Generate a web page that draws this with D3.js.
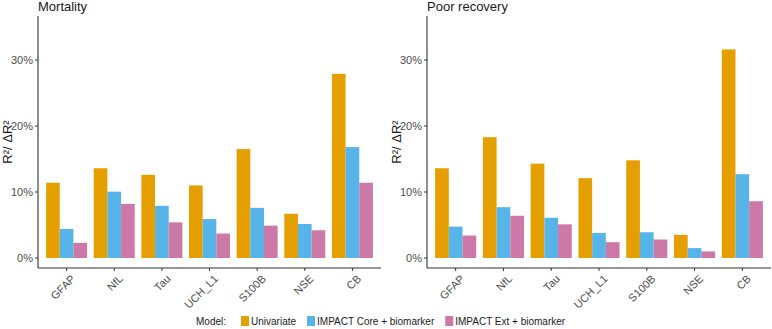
<!DOCTYPE html>
<html><head><meta charset="utf-8">
<script src="https://cdn.jsdelivr.net/npm/d3@7"></script>
<style>body{margin:0;background:#fff;} text{font-family:"Liberation Sans",Arial,sans-serif;}</style>
</head><body><svg id="c" width="772" height="329"></svg>
<script>
const categories = ["GFAP","NfL","Tau","UCH_L1","S100B","NSE","CB"];
const models = ["Univariate","IMPACT Core + biomarker","IMPACT Ext + biomarker"];
const colors = ["#E69F00","#56B4E9","#CC79A7"];
const panelTitles = ["Mortality","Poor recovery"];
const mortalityUni  = [11.4,13.6,12.6,11.0,16.5,6.7,27.9];
const mortalityCore = [4.4,10.05,7.9,5.9,7.6,5.15,16.8];
const mortalityExt  = [2.3,8.2,5.4,3.7,4.9,4.2,11.4];
const recoveryUni   = [13.6,18.3,14.3,12.1,14.8,3.5,31.6];
const recoveryCore  = [4.75,7.7,6.1,3.8,3.9,1.5,12.7];
const recoveryExt   = [3.4,6.4,5.1,2.4,2.8,1.0,8.6];
const yTicks = [0,10,20,30];

const panels = [
  {title: panelTitles[0], series:[mortalityUni,mortalityCore,mortalityExt], x0:38, x1:381},
  {title: panelTitles[1], series:[recoveryUni,recoveryCore,recoveryExt], x0:427, x1:771}
];
const svg = d3.select("#c");
const yTop = 16, yAxisBottom = 268;
const y = d3.scaleLinear().domain([0,10]).range([258,192]);

panels.forEach(p => {
  const g = svg.append("g");
  const x = d3.scalePoint().domain(categories).range([p.x0,p.x1]).padding(0.6);
  const step = x.step();
  const groupW = step*0.86;
  const sub = d3.scaleBand().domain(d3.range(3)).range([-groupW/2, groupW/2]);
  p.series.forEach((vals,si) => {
    g.selectAll(null).data(vals).enter().append("rect")
      .attr("x",(d,i)=>x(categories[i])+sub(si))
      .attr("width",sub.bandwidth())
      .attr("y",d=>y(d))
      .attr("height",d=>y(0)-y(d))
      .attr("fill",colors[si]);
  });
  g.append("line").attr("x1",p.x0).attr("x2",p.x0).attr("y1",yTop).attr("y2",yAxisBottom).attr("stroke","#333").attr("stroke-width",1.1);
  g.append("line").attr("x1",p.x0).attr("x2",p.x1).attr("y1",yAxisBottom).attr("y2",yAxisBottom).attr("stroke","#333").attr("stroke-width",1.1);
  yTicks.forEach(t => {
    g.append("line").attr("x1",p.x0-3).attr("x2",p.x0).attr("y1",y(t)).attr("y2",y(t)).attr("stroke","#333");
    g.append("text").attr("x",p.x0-5).attr("y",y(t)).attr("dy","0.35em").attr("text-anchor","end")
      .attr("font-size",11).attr("fill","#4d4d4d").text(t+"%");
  });
  categories.forEach(c => {
    g.append("line").attr("x1",x(c)).attr("x2",x(c)).attr("y1",yAxisBottom).attr("y2",yAxisBottom+3).attr("stroke","#333");
    g.append("text").attr("transform",`translate(${x(c)+4},${yAxisBottom+6}) rotate(-45)`)
      .attr("text-anchor","end").attr("dy","0.7em").attr("font-size",11).attr("fill","#4d4d4d").text(c);
  });
  g.append("text").attr("x",p.x0).attr("y",11).attr("font-size",13).attr("fill","#1a1a1a").text(p.title);
  g.append("text").attr("transform",`translate(${p.x0-26},${(yTop+yAxisBottom)/2}) rotate(-90)`)
    .attr("text-anchor","middle").attr("font-size",13).attr("fill","#1a1a1a").text("R²/ ΔR²");
});

const leg = svg.append("g");
let lx = 196; const ly = 321;
const t0 = leg.append("text").attr("x",lx).attr("y",ly).attr("dy","0.35em").attr("font-size",10).attr("fill","#1a1a1a").text("Model:");
lx += t0.node().getComputedTextLength() + 15;
models.forEach((m,i) => {
  leg.append("rect").attr("x",lx).attr("y",ly-5).attr("width",8).attr("height",10).attr("fill",colors[i]);
  lx += 10;
  const t = leg.append("text").attr("x",lx).attr("y",ly).attr("dy","0.35em").attr("font-size",10).attr("fill","#1a1a1a").text(m);
  lx += t.node().getComputedTextLength() + 11;
});
</script></body></html>
